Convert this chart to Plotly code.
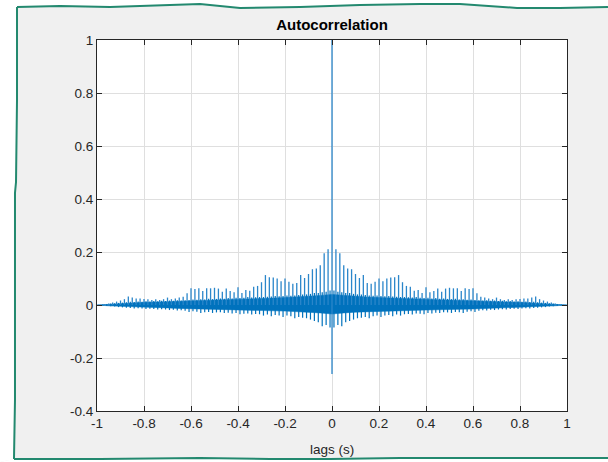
import plotly.graph_objects as go

# ---------------- data ----------------
spike_step = 1 / 60  # spacing of the periodic peaks (s)
# peak heights at lags k*spike_step, k = 1..60 (autocorrelation is symmetric)
spike_heights = [0.210, 0.195, 0.150, 0.138, 0.135, 0.117, 0.102, 0.113, 0.083, 0.080,
                 0.088, 0.100, 0.090, 0.100, 0.104, 0.105, 0.113, 0.086, 0.072, 0.069,
                 0.054, 0.057, 0.045, 0.067, 0.048, 0.053, 0.062, 0.050, 0.062, 0.065,
                 0.063, 0.063, 0.053, 0.063, 0.060, 0.063, 0.044, 0.031, 0.028, 0.025,
                 0.022, 0.028, 0.022, 0.019, 0.022, 0.019, 0.022, 0.023, 0.025, 0.025,
                 0.028, 0.032, 0.022, 0.017, 0.013, 0.009, 0.006, 0.004, 0.002, 0.000]
# minor peaks / troughs between the main peaks, at lags (k+0.5)*spike_step, k = 0..59
minor_peaks = [0.055, 0.050, 0.048, 0.045, 0.045, 0.042, 0.040, 0.040, 0.038, 0.036,
               0.035, 0.036, 0.034, 0.033, 0.034, 0.032, 0.031, 0.030, 0.030, 0.029,
               0.028, 0.030, 0.027, 0.026, 0.027, 0.025, 0.026, 0.024, 0.025, 0.023,
               0.022, 0.024, 0.021, 0.022, 0.020, 0.021, 0.019, 0.018, 0.017, 0.018,
               0.016, 0.017, 0.015, 0.016, 0.014, 0.015, 0.013, 0.014, 0.012, 0.013,
               0.011, 0.012, 0.010, 0.009, 0.008, 0.007, 0.006, 0.004, 0.003, 0.001]
dip_values = [-0.085, -0.075, -0.080, -0.065, -0.060, -0.055, -0.050, -0.048, -0.045, -0.050,
              -0.042, -0.040, -0.045, -0.040, -0.038, -0.042, -0.036, -0.040, -0.035, -0.034,
              -0.036, -0.032, -0.033, -0.035, -0.030, -0.032, -0.029, -0.030, -0.027, -0.028,
              -0.030, -0.026, -0.027, -0.030, -0.025, -0.024, -0.026, -0.022, -0.020, -0.021,
              -0.018, -0.019, -0.017, -0.016, -0.017, -0.015, -0.014, -0.015, -0.013, -0.012,
              -0.013, -0.011, -0.010, -0.009, -0.008, -0.006, -0.005, -0.004, -0.003, -0.001]
# dense core of the noise band
band_lags = [0.00, 0.05, 0.10, 0.15, 0.20, 0.25, 0.30, 0.35, 0.40, 0.45, 0.50,
             0.55, 0.60, 0.65, 0.70, 0.75, 0.80, 0.85, 0.90, 0.95, 1.00]
band_upper = [0.040, 0.036, 0.033, 0.030, 0.028, 0.026, 0.025, 0.023, 0.022, 0.020, 0.019,
              0.017, 0.016, 0.014, 0.012, 0.011, 0.010, 0.008, 0.006, 0.003, 0.000]
band_lower = [-0.034, -0.030, -0.027, -0.025, -0.023, -0.022, -0.021, -0.020, -0.019, -0.018, -0.018,
              -0.016, -0.015, -0.013, -0.011, -0.010, -0.009, -0.007, -0.005, -0.003, 0.000]
zero_lag_peak = 1.0
zero_lag_dip = -0.26

x_tick_vals = [-1, -0.8, -0.6, -0.4, -0.2, 0, 0.2, 0.4, 0.6, 0.8, 1]
x_tick_text = ["-1", "-0.8", "-0.6", "-0.4", "-0.2", "0", "0.2", "0.4", "0.6", "0.8", "1"]
y_tick_vals = [-0.4, -0.2, 0, 0.2, 0.4, 0.6, 0.8, 1]
y_tick_text = ["-0.4", "-0.2", "0", "0.2", "0.4", "0.6", "0.8", "1"]

title_text = "Autocorrelation"
x_label = "lags (s)"

# ---------------- styles ----------------
W, H = 608, 462
L, R, T, B = 97, 41, 40, 51
blue = "#0072BD"
spike_blue = "#2a86ca"
axis_col = "#262626"
grid_col = "#dfdfdf"
font = "Liberation Sans, Arial, sans-serif"

# ---------------- build traces ----------------
fig = go.Figure()

# noise band core (mirrored: autocorrelation is symmetric)
bx = [-l for l in band_lags[::-1]] + band_lags[1:] + band_lags[::-1] + [-l for l in band_lags[1:]]
by = band_upper[::-1] + band_upper[1:] + band_lower[::-1] + band_lower[1:]
fig.add_trace(go.Scatter(x=bx, y=by, mode="lines", fill="toself", fillcolor=blue,
                         line=dict(color=blue, width=0.5), hoverinfo="skip", showlegend=False))

sx, sy = [], []
for k, h in enumerate(spike_heights, start=1):
    for sgn in (1, -1):
        lag = sgn * k * spike_step
        sx += [lag, lag, None]
        sy += [0, h, None]
sx += [0, 0, None]
sy += [zero_lag_dip, zero_lag_peak, None]
fig.add_trace(go.Scatter(x=sx, y=sy, mode="lines", line=dict(color=spike_blue, width=1.3),
                         hoverinfo="skip", showlegend=False, connectgaps=False))

mx, my = [], []
for k, (d, m) in enumerate(zip(dip_values, minor_peaks)):
    for sgn in (1, -1):
        lag = sgn * (k + 0.5) * spike_step
        mx += [lag, lag, None]
        my += [d, m, None]
fig.add_trace(go.Scatter(x=mx, y=my, mode="lines", line=dict(color=blue, width=1.2),
                         hoverinfo="skip", showlegend=False, connectgaps=False))

# ---------------- layout ----------------
axis_common = dict(showline=True, linecolor=axis_col, linewidth=1, mirror="ticks",
                   ticks="inside", ticklen=5, tickcolor=axis_col, showgrid=True,
                   gridcolor=grid_col, gridwidth=1, zeroline=False,
                   tickfont=dict(family=font, size=13.5, color=axis_col))
fig.update_xaxes(range=[-1, 1], tickvals=x_tick_vals, ticktext=x_tick_text, **axis_common)
fig.update_yaxes(range=[-0.4, 1], tickvals=y_tick_vals, ticktext=y_tick_text, **axis_common)


def px2paper(px, py):
    return (px - L) / (W - L - R), (H - B - py) / (H - T - B)


top_px = [(17, 7), (60, 6), (110, 7), (140, 6), (200, 4), (240, 8), (300, 7), (360, 5),
          (420, 4), (460, 4), (517, 8), (560, 8), (608, 7)]
left_px = [(17, 7), (17, 100), (16, 182), (15, 193), (15, 300), (15, 400), (14, 459)]
bottom_px = [(14, 459), (100, 459), (200, 458), (270, 459), (330, 459), (400, 458),
             (500, 458), (608, 458)]


def path_of(pts, close=False):
    s = ""
    for i, (px, py) in enumerate(pts):
        xx, yy = px2paper(px, py)
        s += ("M" if i == 0 else "L") + f"{xx:.4f},{yy:.4f} "
    return s + ("Z" if close else "")


# white page outside the torn-paper border
outside = [
    [(0, 0), (W, 0)] + top_px[::-1] + [(0, 7)],
    [(0, 0)] + left_px + [(0, H)],
    [(0, H), (W, H)] + bottom_px[::-1],
]
shapes = [dict(type="path", xref="paper", yref="paper", path=path_of(p, True),
               fillcolor="#ffffff", line=dict(width=0), layer="below") for p in outside]
shapes += [dict(type="path", xref="paper", yref="paper", path=path_of(p),
                line=dict(color="#23896f", width=2), layer="above")
           for p in (top_px, left_px, bottom_px)]

fig.update_layout(
    width=W, height=H, margin=dict(l=L, r=R, t=T, b=B, pad=0),
    paper_bgcolor="#f0f0f0", plot_bgcolor="#ffffff",
    title=dict(text=f"<b>{title_text}</b>", x=(L + (W - L - R) / 2) / W, xanchor="center",
               y=1 - 25 / H, yanchor="middle",
               font=dict(family=font, size=15, color="#000000")),
    shapes=shapes,
    annotations=[dict(text=x_label, xref="paper", yref="paper", x=0.5, y=0,
                      xanchor="center", yanchor="middle", yshift=-38, showarrow=False,
                      font=dict(family=font, size=13.5, color=axis_col))],
    showlegend=False,
)

fig.write_html("out.html", config={"displayModeBar": False},
               post_script="document.body.style.margin='0px';")
